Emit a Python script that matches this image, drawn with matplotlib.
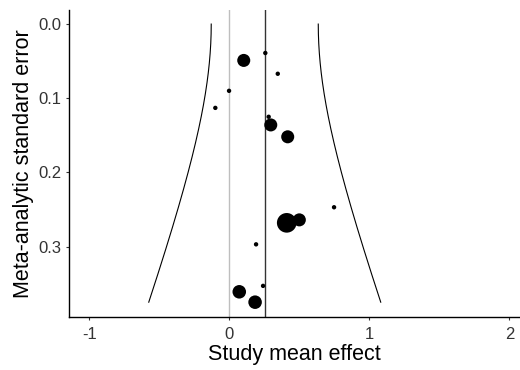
import numpy as np
import matplotlib.pyplot as plt

plt.rcParams['font.family'] = ['Liberation Sans', 'DejaVu Sans']

# study effects, standard errors and weights (point size)
effect = [0.103, 0.257, 0.346, -0.002, -0.100, 0.281, 0.296, 0.417,
          0.748, 0.410, 0.500, 0.191, 0.241, 0.071, 0.184]
se = [0.049, 0.039, 0.067, 0.090, 0.113, 0.125, 0.136, 0.152,
      0.247, 0.268, 0.264, 0.297, 0.353, 0.361, 0.375]
weight = [88, 10, 10, 10, 10, 10, 88, 88,
          10, 200, 88, 10, 10, 95, 95]

# meta-analytic summary
pooled = 0.253
tau = 0.195

# funnel bounds: pooled +/- 1.96 * sqrt(tau^2 + se^2)
se_grid = np.linspace(0, max(se), 200)
half = 1.96 * np.sqrt(tau ** 2 + se_grid ** 2)

fig = plt.figure(figsize=(5.2, 3.7), dpi=100)
ax = fig.add_axes([0.1327, 0.1432, 0.8673, 0.8298])

ax.axvline(0, color='#bebebe', lw=1.0, zorder=1)
ax.axvline(pooled, color='#333333', lw=1.0, zorder=1)
ax.plot(pooled - half, se_grid, color='black', lw=0.8)
ax.plot(pooled + half, se_grid, color='black', lw=0.8)
ax.scatter(effect, se, s=weight, color='black', edgecolors='none', zorder=3)

ax.set_xlim(-1.145, 2.076)
ax.set_ylim(0.395, -0.019)
ax.set_xticks([-1, 0, 1, 2])
ax.set_xticklabels(['-1', '0', '1', '2'])
ax.set_yticks([0.0, 0.1, 0.2, 0.3])
ax.set_yticklabels(['0.0', '0.1', '0.2', '0.3'])

for side in ['top', 'right']:
    ax.spines[side].set_visible(False)
for side in ['left', 'bottom']:
    ax.spines[side].set_color('black')
    ax.spines[side].set_linewidth(1.0)
ax.tick_params(length=2.5, width=0.8, color='#333333', labelcolor='#333333',
               labelsize=12, pad=3)
ax.tick_params(axis='x', pad=5)

ax.set_xlabel('Study mean effect', fontsize=15.5, labelpad=1)
ax.set_ylabel('Meta-analytic standard error', fontsize=15.5, labelpad=3)

fig.savefig('out.png', dpi=100)
